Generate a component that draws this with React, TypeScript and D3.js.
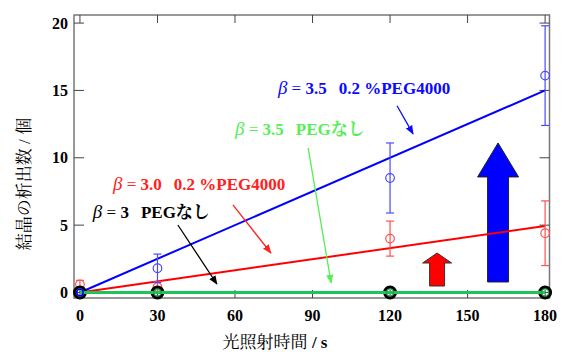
import * as d3 from "d3";

// data
const TIMES = [0, 30, 120, 180];
const X_TICKS = [0, 30, 60, 90, 120, 150, 180];
const Y_TICKS = [0, 5, 10, 15, 20];

const BLUE_MEAN = [0, 1.8, 8.5, 16.1];
const BLUE_ERR = [0, 1.05, 2.6, 3.7];
const RED_MEAN = [0.6, 0.4, 4.0, 4.4];
const RED_ERR = [0.3, 0.4, 1.3, 2.4];
const GREEN_MEAN = [0, 0, 0, 0];
const BLACK_MEAN = [0, 0, 0, 0];

// fitted lines through origin, at FIT_X
const FIT_X = [0, 180];
const BLUE_FIT = [0, 15.0];
const RED_FIT = [0, 4.94];
const GREEN_FIT = [0, 0];

const W = 565;
const H = 352;
const FRAME = { left: 74, right: 549.5, top: 15, bottom: 298 };
const SERIF = '"Liberation Serif", "Noto Serif CJK JP", serif';
const MINCHO = '"Noto Serif CJK JP", "Liberation Serif", serif';

const x = d3.scaleLinear().domain([-2.3, 181.7]).range([FRAME.left, FRAME.right]);
const y = d3.scaleLinear().domain([-0.41, 20.6]).range([FRAME.bottom, FRAME.top]);

const line = d3
  .line<[number, number]>()
  .x((d) => x(d[0]))
  .y((d) => y(d[1]));

const fit = (ys: number[]) => line(FIT_X.map((t, i) => [t, ys[i]] as [number, number])) ?? "";

// labels with arrows, positions in data units
const NOTES = [
  { pre: "3.5", post: "0.2 %PEG4000", color: "#0a0aff", tx: 76.6, ty: 14.7, a: [122.7, 13.86, 128.9, 11.77] },
  { pre: "3.5", post: "PEGなし", color: "#55ee55", tx: 60, ty: 11.7, a: [88.3, 10.74, 97.2, 0.71] },
  { pre: "3.0", post: "0.2 %PEG4000", color: "#ff2020", tx: 12.8, ty: 7.6, a: [59.2, 6.5, 73.9, 2.93] },
  { pre: "3", post: "PEGなし", color: "#000000", tx: 5.0, ty: 5.53, a: [37.9, 5.01, 53, 0.63] },
];

function blockArrow(cx: number, y0: number, y1: number, shaftW: number, headW: number, headH: number) {
  const px = x(cx);
  const b = y(y0);
  const t = y(y1);
  const hb = t + headH;
  return [
    [px - shaftW / 2, b],
    [px - shaftW / 2, hb],
    [px - headW / 2, hb],
    [px, t],
    [px + headW / 2, hb],
    [px + shaftW / 2, hb],
    [px + shaftW / 2, b],
  ]
    .map((p) => p.join(","))
    .join(" ");
}

function ErrorSeries({ mean, err, color }: { mean: number[]; err: number[]; color: string }) {
  return (
    <g stroke={color} fill="none" strokeWidth={1.2}>
      {TIMES.map((t, i) => {
        const cx = x(t);
        const lo = y(mean[i] - err[i]);
        const hi = y(mean[i] + err[i]);
        return (
          <g key={t}>
            {err[i] > 0 && (
              <>
                <line x1={cx} x2={cx} y1={lo} y2={hi} />
                <line x1={cx - 4} x2={cx + 4} y1={lo} y2={lo} />
                <line x1={cx - 4} x2={cx + 4} y1={hi} y2={hi} />
              </>
            )}
            <circle cx={cx} cy={y(mean[i])} r={4.3} />
          </g>
        );
      })}
    </g>
  );
}

export default function App() {
  return (
    <svg
      width={W}
      height={H}
      style={{ position: "absolute", left: 0, top: 0, background: "#fff" }}
    >
      <defs>
        {NOTES.map((n, i) => (
          <marker
            key={i}
            id={`ah${i}`}
            viewBox="0 0 10 10"
            refX={9}
            refY={5}
            markerWidth={7}
            markerHeight={7}
            orient="auto"
          >
            <path d="M0,1 L10,5 L0,9 z" fill={n.color} />
          </marker>
        ))}
      </defs>

      {/* frame */}
      <rect
        x={FRAME.left}
        y={FRAME.top}
        width={FRAME.right - FRAME.left}
        height={FRAME.bottom - FRAME.top}
        fill="none"
        stroke="#777"
        strokeWidth={1.5}
      />

      {/* ticks, inward on all four sides */}
      <g stroke="#444" strokeWidth={1}>
        {X_TICKS.map((t) => (
          <g key={t}>
            <line x1={x(t)} x2={x(t)} y1={FRAME.bottom} y2={FRAME.bottom - 8} />
            <line x1={x(t)} x2={x(t)} y1={FRAME.top} y2={FRAME.top + 8} />
          </g>
        ))}
        {Y_TICKS.map((t) => (
          <g key={t}>
            <line x1={FRAME.left} x2={FRAME.left + 10} y1={y(t)} y2={y(t)} />
            <line x1={FRAME.right} x2={FRAME.right - 10} y1={y(t)} y2={y(t)} />
          </g>
        ))}
      </g>

      {/* tick labels */}
      <g style={{ fontFamily: SERIF }} fontWeight="bold" fontSize={16} fill="#000">
        {X_TICKS.map((t) => (
          <text key={t} x={x(t)} y={321} textAnchor="middle">
            {t}
          </text>
        ))}
        {Y_TICKS.map((t) => (
          <text key={t} x={68} y={y(t)} dy="0.35em" textAnchor="end">
            {t}
          </text>
        ))}
      </g>

      {/* axis titles */}
      <text x={275} y={348} textAnchor="middle" style={{ fontFamily: MINCHO }} fontSize={17} fill="#000">
        光照射時間 <tspan style={{ fontFamily: SERIF }} fontWeight="bold">/ s</tspan>
      </text>
      <text
        transform="translate(30,184) rotate(-90)"
        textAnchor="middle"
        style={{ fontFamily: MINCHO }}
        fontSize={17}
        fill="#000"
      >
        結晶の析出数 <tspan style={{ fontFamily: SERIF }}>/</tspan> 個
      </text>

      {/* block arrows */}
      <polygon points={blockArrow(138.2, 0.48, 2.93, 15, 29, 10)} fill="#ff0000" stroke="#333" strokeWidth={1} />
      <polygon points={blockArrow(161.8, 0.78, 11.1, 21, 41, 34)} fill="#0000ff" stroke="#222" strokeWidth={1} />

      {/* fitted lines */}
      <path d={fit(BLUE_FIT)} stroke="#0000ff" strokeWidth={2} fill="none" />
      <path d={fit(RED_FIT)} stroke="#ff0000" strokeWidth={2} fill="none" />

      {/* error bars and markers */}
      <ErrorSeries mean={RED_MEAN} err={RED_ERR} color="#ff5050" />
      <ErrorSeries mean={BLUE_MEAN} err={BLUE_ERR} color="#4a4aff" />

      {/* β=3, no PEG */}
      <g fill="none" stroke="#000" strokeWidth={3.5}>
        {TIMES.map((t, i) => (
          <circle key={t} cx={x(t)} cy={y(BLACK_MEAN[i])} r={5.2} />
        ))}
      </g>

      {/* β=3.5, no PEG */}
      <path d={fit(GREEN_FIT)} stroke="#1fc35a" strokeWidth={3} fill="none" />
      <g fill="none" stroke="#1fa050" strokeWidth={1.3}>
        {TIMES.map((t, i) => (
          <circle key={t} cx={x(t)} cy={y(GREEN_MEAN[i])} r={3.6} />
        ))}
      </g>
      <circle cx={x(0)} cy={y(BLUE_MEAN[0])} r={3.2} fill="none" stroke="#0000ff" strokeWidth={1.5} />

      {/* annotations */}
      {NOTES.map((n, i) => (
        <g key={i}>
          <text x={x(n.tx)} y={y(n.ty)} fill={n.color} style={{ fontFamily: SERIF }} fontSize={17}>
            <tspan fontStyle="italic" fontSize={19}>β</tspan>
            <tspan> = </tspan>
            <tspan fontWeight="bold">{n.pre}</tspan>
            <tspan fontWeight="bold" dx={12}>{n.post}</tspan>
          </text>
          <line
            x1={x(n.a[0])}
            y1={y(n.a[1])}
            x2={x(n.a[2])}
            y2={y(n.a[3])}
            stroke={n.color}
            strokeWidth={1.3}
            markerEnd={`url(#ah${i})`}
          />
        </g>
      ))}
    </svg>
  );
}
